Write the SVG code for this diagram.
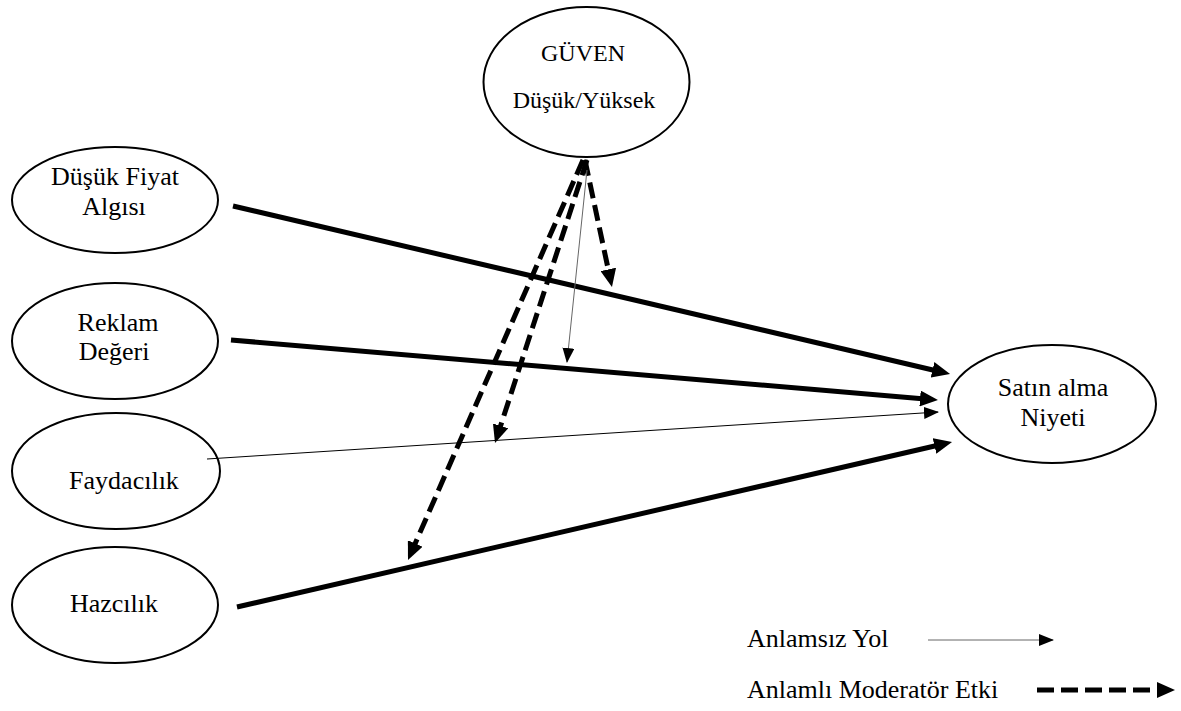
<svg xmlns="http://www.w3.org/2000/svg" width="1181" height="711" viewBox="0 0 1181 711">
<style>
  .node ellipse { fill: #fff; stroke: #000; stroke-width: 2; }
  .t { font-family: 'Liberation Serif', Tinos, 'Times New Roman', Times, 'DejaVu Serif', serif; font-size: 26px; fill: #000; }
  .mid { text-anchor: middle; }
  .small { font-size: 24px; }
  .thick { stroke: #000; stroke-width: 5; fill: none; marker-end: url(#headThick); }
  .thin { stroke: #000; stroke-width: 1; fill: none; marker-end: url(#headThin); }
  .thinGray { stroke: #666; stroke-width: 1; fill: none; marker-end: url(#headThin); }
  .dash { stroke: #000; stroke-width: 5; fill: none; stroke-dasharray: 16 7; marker-end: url(#headThick); }
</style>
<defs>
  <marker id="headThick" markerUnits="userSpaceOnUse" markerWidth="18" markerHeight="16" refX="8" refY="8" orient="auto">
    <path d="M0,0 L18,8 L0,16 z" fill="#000"/>
  </marker>
  <marker id="headThin" markerUnits="userSpaceOnUse" markerWidth="15" markerHeight="12" refX="14" refY="6" orient="auto">
    <path d="M0,0 L15,6 L0,12 z" fill="#000"/>
  </marker>
</defs>
<rect width="1181" height="711" fill="#fff"/>

<g id="guven" class="node">
  <ellipse cx="586.5" cy="82" rx="103" ry="75"/>
  <text class="t mid small" x="583" y="61">GÜVEN</text>
  <text class="t mid small" x="584" y="108">Düşük/Yüksek</text>
</g>

<g id="dusuk-fiyat" class="node">
  <ellipse cx="115" cy="200" rx="103" ry="53"/>
  <text class="t mid" x="115" y="185">Düşük Fiyat</text>
  <text class="t mid" x="114" y="215">Algısı</text>
</g>

<g id="reklam" class="node">
  <ellipse cx="115" cy="341" rx="103" ry="58"/>
  <text class="t mid" x="118" y="331">Reklam</text>
  <text class="t mid" x="114" y="360">Değeri</text>
</g>

<g id="faydacilik" class="node">
  <ellipse cx="116" cy="471" rx="104" ry="58"/>
  <text class="t mid" x="124" y="489">Faydacılık</text>
</g>

<g id="hazcilik" class="node">
  <ellipse cx="115" cy="605" rx="103" ry="58"/>
  <text class="t mid" x="114" y="612">Hazcılık</text>
</g>

<g id="satin-alma" class="node">
  <ellipse cx="1052" cy="404" rx="104" ry="59"/>
  <text class="t mid" x="1053" y="396">Satın alma</text>
  <text class="t mid" x="1053" y="426">Niyeti</text>
</g>

<g id="connectors">
  <line class="thick" x1="233" y1="206" x2="940.3" y2="371.7"/>
  <line class="thick" x1="231" y1="340" x2="928" y2="399.2"/>
  <line class="thin" x1="207" y1="459" x2="938" y2="412"/>
  <line class="thick" x1="237" y1="607" x2="942.3" y2="444.2"/>
  <line class="dash" x1="585" y1="160" x2="609.9" y2="277.2"/>
  <line class="dash" x1="583" y1="160" x2="412" y2="550.8"/>
  <line class="dash" x1="587" y1="160" x2="498.1" y2="433.5"/>
  <line class="thinGray" x1="587" y1="170" x2="567" y2="362"/>
</g>

<g id="legend">
  <text class="t" x="747" y="647">Anlamsız Yol</text>
  <line class="thinGray" x1="928" y1="640" x2="1053" y2="640"/>
  <text class="t" x="747" y="698">Anlamlı Moderatör Etki</text>
  <line x1="1037" y1="690" x2="1165" y2="690" stroke="#000" stroke-width="5" stroke-dasharray="17 7" marker-end="url(#headThick)"/>
</g>
</svg>
